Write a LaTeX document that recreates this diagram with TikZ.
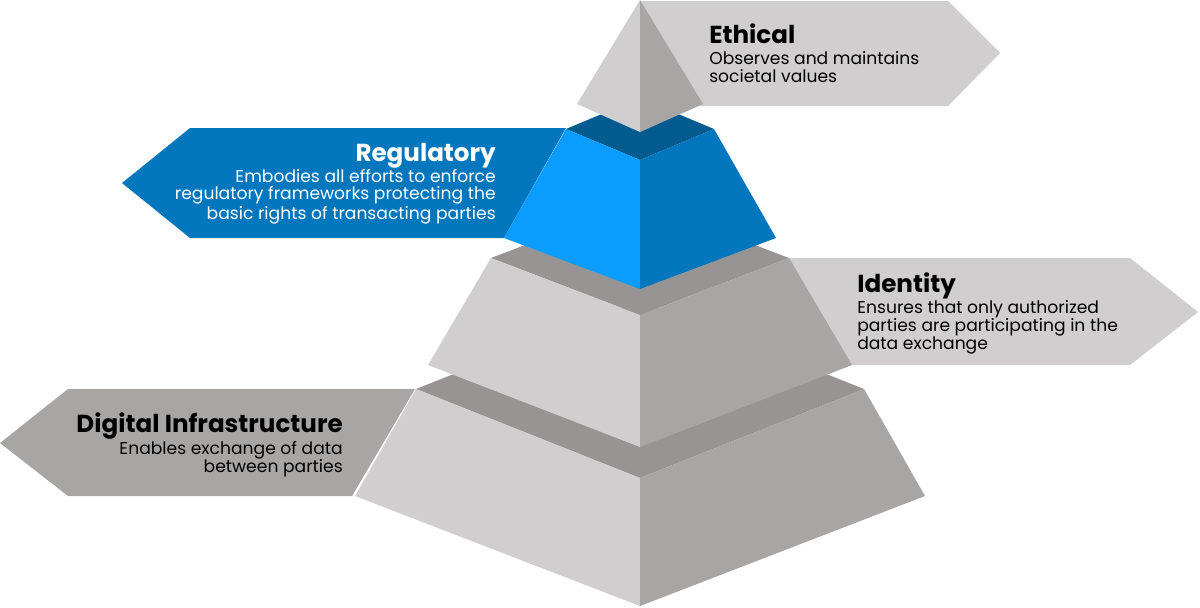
\documentclass[tikz,border=0pt]{standalone}
\usepackage{fontspec}
\setmainfont{Poppins}
\usetikzlibrary{positioning}

\definecolor{faceL}{HTML}{D0CECF}
\definecolor{faceR}{HTML}{A8A5A5}
\definecolor{faceT}{HTML}{979493}
\definecolor{blueL}{HTML}{0A9CFF}
\definecolor{blueR}{HTML}{0277BD}
\definecolor{blueT}{HTML}{035B8F}

\begin{document}
\begin{tikzpicture}[x=0.025cm, y=-0.025cm,
    title/.style={font=\fontsize{17.5}{20}\selectfont\bfseries, inner sep=0pt},
    body/.style={font=\fontsize{12.2}{12.6}\selectfont, inner sep=0pt}]
    \useasboundingbox (0,0) rectangle (1200,607);

    % Pfeile hinter der Pyramide
    \fill[faceL] (640,1) -- (948,1) -- (1000,53) -- (948,106) -- (640,106) -- cycle;
    \fill[blueR] (566,128) -- (190,128) -- (122,183) -- (190,238) -- (504,238) -- cycle;
    \fill[faceL] (788,258) -- (1130,258) -- (1198,312) -- (1130,365) -- (851,365) -- cycle;
    \fill[faceR] (415,389) -- (68,389) -- (0,443) -- (68,496) -- (352,496) -- cycle;

    % Stufen: halbe Breite/y/Tiefe oben, halbe Breite/y/Tiefe unten, Farben
    \foreach \wt/\yt/\dt/\wb/\yb/\db/\cl/\cr/\ct in {
        224/389/89/285/496/110/faceL/faceR/faceT,
        149/258/57/212/365/82/faceL/faceR/faceT,
        74/129/31/136/238/51/blueL/blueR/blueT} {
        \fill[\ct] (640-\wt,\yt) -- (640,\yt-\dt) -- (640+\wt,\yt) -- (640,\yt+\dt) -- cycle;
        \fill[\cl] (640-\wt,\yt) -- (640,\yt+\dt) -- (640,\yb+\db) -- (640-\wb,\yb) -- cycle;
        \fill[\cr] (640+\wt,\yt) -- (640,\yt+\dt) -- (640,\yb+\db) -- (640+\wb,\yb) -- cycle;
    }

    % Spitze
    \fill[faceL] (640,0) -- (577,104) -- (640,132) -- cycle;
    \fill[faceR] (640,0) -- (703,104) -- (640,132) -- cycle;

    % Texte (base = Grundlinie der letzten Zeile)
    \node[title, anchor=base west] (ethical) at (709,43) {Ethical};
    \node[body, anchor=base west, align=left] (ethicalTxt) at (709,82)
        {Observes and maintains\\societal values};
    \node[title, anchor=base east, white] (regulatory) at (496,161) {Regulatory};
    \node[body, anchor=base east, align=right, white] (regulatoryTxt) at (496,219)
        {Embodies all efforts to enforce\\regulatory frameworks protecting the\\basic rights of transacting parties};
    \node[title, anchor=base west] (identity) at (857,292) {Identity};
    \node[body, anchor=base west, align=left] (identityTxt) at (857,349)
        {Ensures that only authorized\\parties are participating in the\\data exchange};
    \node[title, anchor=base east] (digital) at (343,432) {Digital Infrastructure};
    \node[body, anchor=base east, align=right] (digitalTxt) at (343,472)
        {Enables exchange of data\\between parties};
\end{tikzpicture}
\end{document}
